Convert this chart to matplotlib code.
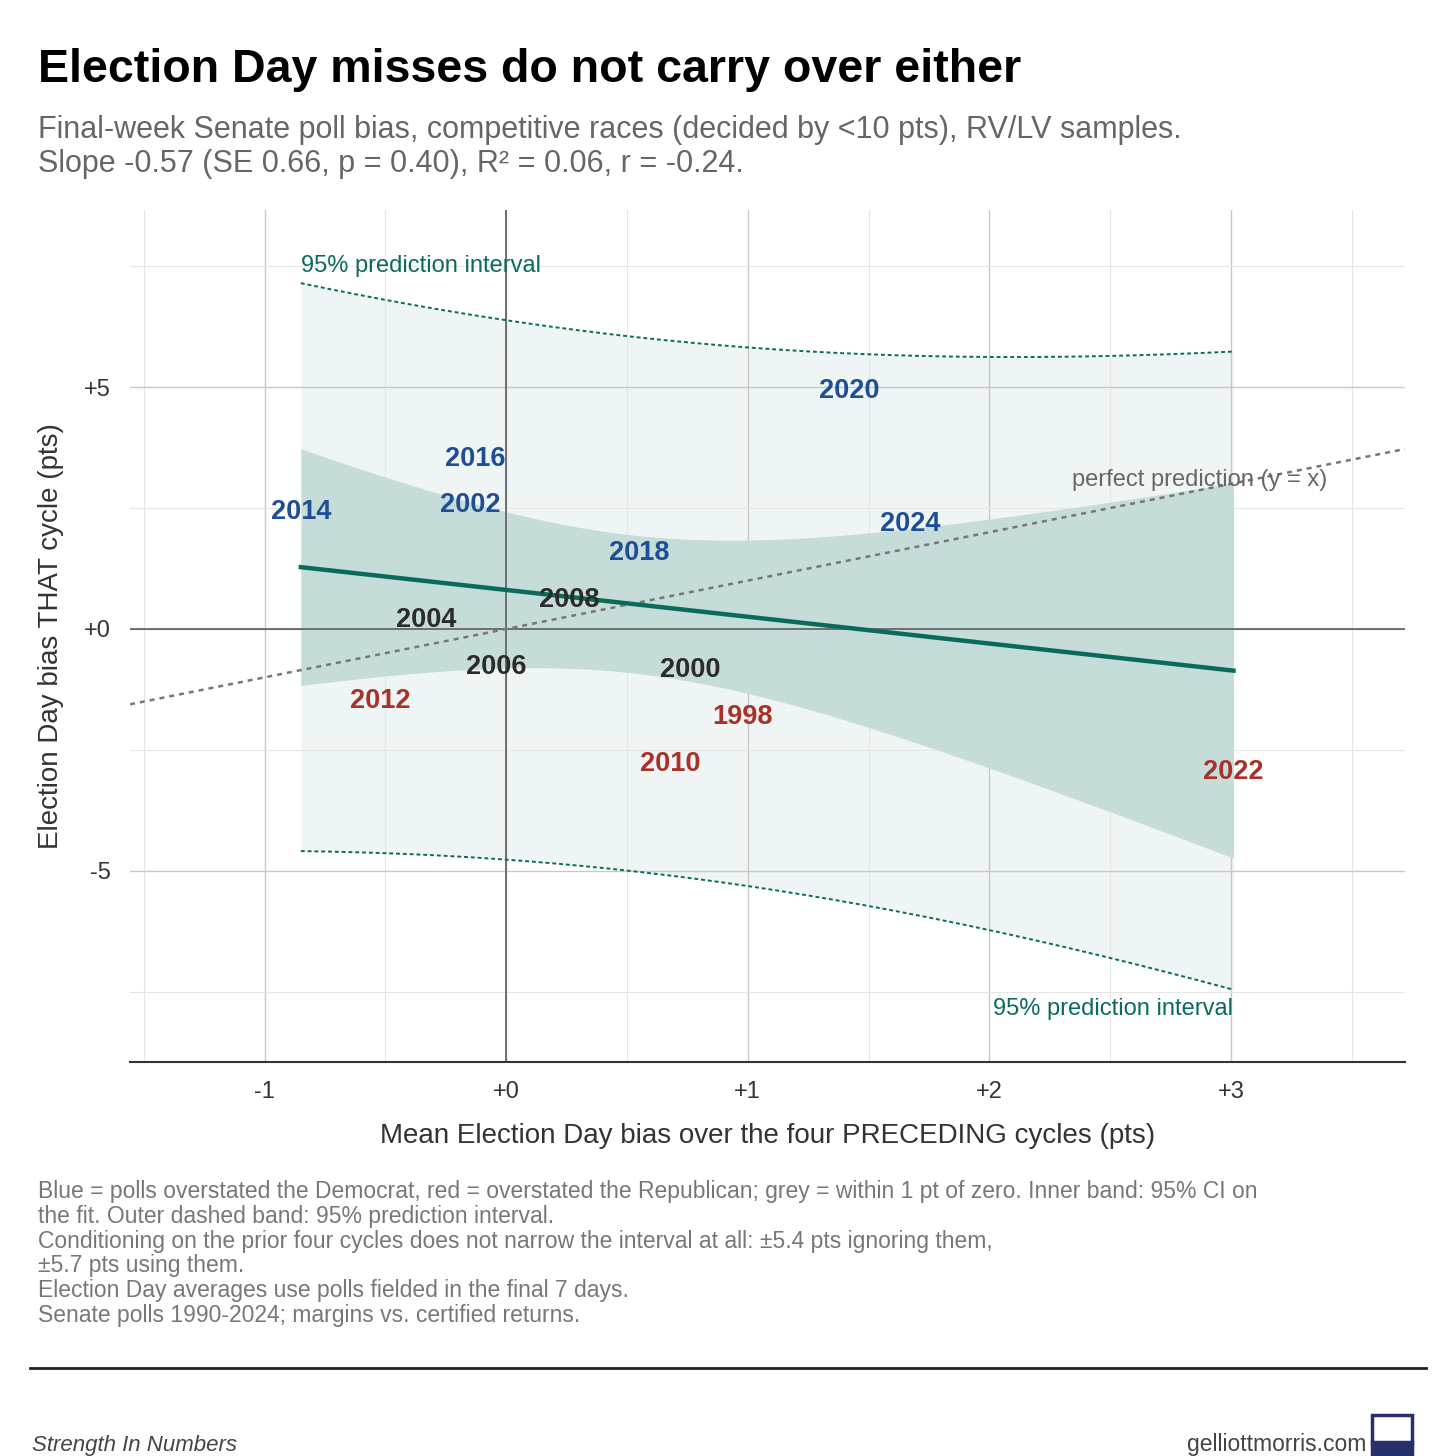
import numpy as np
import matplotlib
matplotlib.use("Agg")
import matplotlib.pyplot as plt

plt.rcParams['font.family'] = ['Liberation Sans', 'DejaVu Sans']

years = ['2014','2016','2002','2018','2020','2024','2008','2004','2006','2000','2012','1998','2010','2022']
prior = [-0.85,-0.13,-0.15,0.55,1.42,1.67,0.26,-0.33,-0.04,0.76,-0.52,0.98,0.68,3.01]
bias  = [2.42,3.51,2.56,1.57,4.92,2.17,0.60,0.19,-0.79,-0.85,-1.49,-1.82,-2.79,-2.95]

BLUE, RED, DARK = '#1f4e96', '#a8322a', '#2b2b2b'
TEAL = '#0b6b5b'

x = np.array(prior); y = np.array(bias); n = len(x)
b, a = np.polyfit(x, y, 1)
res = y - (a + b*x)
s = np.sqrt((res**2).sum()/(n-2))
t = 2.179
xs = np.linspace(x.min(), x.max(), 200)
sxx = ((x - x.mean())**2).sum()
yh = a + b*xs
se_m = s*np.sqrt(1/n + (xs-x.mean())**2/sxx)
se_p = s*np.sqrt(1 + 1/n + (xs-x.mean())**2/sxx)

fig = plt.figure(figsize=(14.56, 14.56), dpi=100)
ax = fig.add_axes([130/1456, 1-1062/1456, 1275/1456, 852/1456])
ax.set_xlim(-1.557, 3.72); ax.set_ylim(-8.95, 8.66)
ax.set_xticks([-1,0,1,2,3]); ax.set_xticklabels(['-1','+0','+1','+2','+3'])
ax.set_yticks([-5,0,5]); ax.set_yticklabels(['-5','+0','+5'])
ax.set_xticks(np.arange(-1.5,4,1), minor=True); ax.set_yticks([-7.5,-2.5,2.5,7.5], minor=True)
ax.grid(which='major', color='#c8c8c8', lw=1)
ax.grid(which='minor', color='#e6e6e6', lw=0.8)
ax.set_axisbelow(True)
for sp in ['top','right','left']: ax.spines[sp].set_visible(False)
ax.spines['bottom'].set_color('#333'); ax.spines['bottom'].set_linewidth(1.5)
ax.tick_params(which='both', length=0, labelsize=17, colors='#333', pad=14)
ax.axhline(0, color='#666', lw=1.3, zorder=1); ax.axvline(0, color='#666', lw=1.3, zorder=1)

ax.fill_between(xs, yh-t*se_p, yh+t*se_p, color='#eef5f4', zorder=0.5, lw=0)
ax.fill_between(xs, yh-t*se_m, yh+t*se_m, color='#c5dcd9', zorder=0.6, lw=0)
ax.plot(xs, yh+t*se_p, ls=(0,(2,1.5)), color=TEAL, lw=1.4)
ax.plot(xs, yh-t*se_p, ls=(0,(2,1.5)), color=TEAL, lw=1.4)
ax.plot(xs, yh, color=TEAL, lw=3.2, zorder=3)
lx = np.array([-1.557, 3.72])
ax.plot(lx, lx, ls=(0,(2,2)), color='#777', lw=1.8, zorder=2)
ax.text(2.34, 3.07, 'perfect prediction (y = x)', color='#666', fontsize=17, va='center')
ax.text(xs[0], 7.5, '95% prediction interval', color=TEAL, fontsize=17, va='center')
ax.text(xs[-1], -7.85, '95% prediction interval', color=TEAL, fontsize=17, va='center', ha='right')

for yr, px, py in zip(years, prior, bias):
    c = DARK if abs(py) < 1 else (BLUE if py > 0 else RED)
    ax.text(px, py, yr, color=c, fontsize=19.5, fontweight='bold', ha='center', va='center', zorder=4)

ax.set_xlabel('Mean Election Day bias over the four PRECEDING cycles (pts)', fontsize=20, color='#333', labelpad=14)
ax.set_ylabel('Election Day bias THAT cycle (pts)', fontsize=20, color='#333', labelpad=14)

fig.text(38/1456, 1-70/1456, 'Election Day misses do not carry over either', fontsize=33.5, fontweight='bold', va='center')
fig.text(38/1456, 1-147/1456, 'Final-week Senate poll bias, competitive races (decided by <10 pts), RV/LV samples.\nSlope -0.57 (SE 0.66, p = 0.40), R² = 0.06, r = -0.24.',
         fontsize=22, color='#666', va='center', linespacing=1.2)
fig.text(38/1456, 1-1180/1456, 'Blue = polls overstated the Democrat, red = overstated the Republican; grey = within 1 pt of zero. Inner band: 95% CI on\nthe fit. Outer dashed band: 95% prediction interval.\nConditioning on the prior four cycles does not narrow the interval at all: ±5.4 pts ignoring them,\n±5.7 pts using them.\nElection Day averages use polls fielded in the final 7 days.\nSenate polls 1990-2024; margins vs. certified returns.',
         fontsize=16.5, color='#777', va='top', linespacing=1.1)
fig.add_artist(plt.Line2D([30/1456, 1426/1456], [1-1368/1456]*2, color='#222', lw=2))
fig.text(32/1456, 1-1445/1456, 'Strength In Numbers', fontsize=16, style='italic', color='#444', va='center')
fig.text(1366/1456, 1-1445/1456, 'gelliottmorris.com', fontsize=16.5, color='#444', va='center', ha='right')
fig.add_artist(plt.Rectangle((1372/1456, 1-1443/1456), 40/1456, 28/1456, fc='white', ec='#27306b', lw=2.5))
fig.add_artist(plt.Rectangle((1372/1456, 1-1470/1456), 40/1456, 28/1456, fc='#27306b', ec='#27306b', lw=2.5))
fig.savefig('out.png', dpi=100)
